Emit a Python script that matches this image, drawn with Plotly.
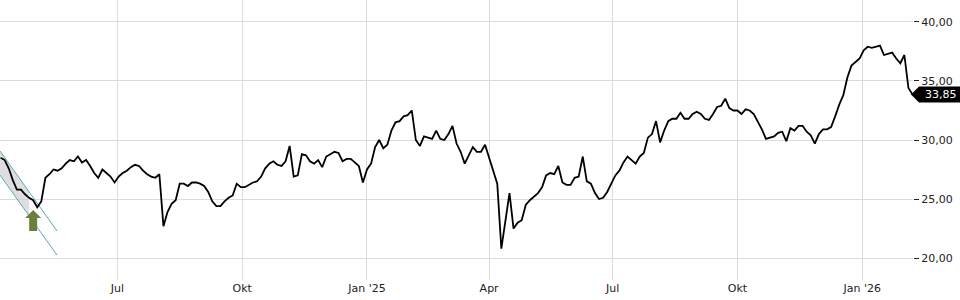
import pandas as pd
import plotly.graph_objects as go

# ---- data ----
start_date = "2024-04-06"
close = [
    28.5, 28.3, 27.6, 26.6, 25.8, 25.8, 25.4, 25.1, 24.9, 24.3,
    24.8, 26.8, 27.1, 27.5, 27.4, 27.6, 28.0, 28.3, 28.2, 28.6,
    28.1, 28.3, 27.8, 27.2, 26.8, 27.5, 27.2, 26.9, 26.4, 26.9,
    27.2, 27.4, 27.7, 27.9, 27.8, 27.4, 27.1, 26.9, 26.8, 27.1,
    22.7, 23.9, 24.6, 24.9, 26.3, 26.3, 26.1, 26.4, 26.4, 26.3,
    26.1, 25.6, 24.8, 24.4, 24.4, 24.8, 25.1, 25.3, 26.3, 26.0,
    26.0, 26.2, 26.4, 26.5, 26.9, 27.6, 28.0, 28.2, 27.9, 27.8,
    28.2, 29.5, 26.9, 27.0, 28.8, 28.7, 28.2, 28.0, 28.3, 27.7,
    28.6, 28.8, 29.0, 28.9, 28.2, 28.4, 28.4, 28.1, 27.8, 26.4,
    27.5, 28.0, 29.4, 30.0, 29.3, 29.6, 30.8, 31.5, 31.6, 32.0,
    32.1, 32.5, 30.0, 29.5, 30.3, 30.2, 30.1, 30.8, 30.1, 30.0,
    30.5, 31.2, 29.7, 29.0, 28.0, 28.7, 29.4, 29.0, 29.0, 29.6,
    28.5, 27.2, 26.3, 20.8, 23.0, 25.5, 22.5, 23.0, 23.2, 24.5,
    24.9, 25.2, 25.5, 26.0, 27.0, 27.2, 27.1, 27.8, 26.4, 26.2,
    26.2, 26.8, 26.9, 28.6, 26.5, 26.3, 25.5, 25.0, 25.1, 25.6,
    26.3, 27.0, 27.4, 28.1, 28.6, 28.3, 28.0, 28.6, 28.9, 30.2,
    30.5, 31.6, 29.8, 30.8, 31.6, 31.8, 31.8, 32.3, 31.8, 31.8,
    32.2, 32.4, 32.2, 31.8, 31.7, 32.2, 32.8, 32.9, 33.5, 32.7,
    32.5, 32.5, 32.2, 32.6, 32.5, 32.2, 31.6, 30.9, 30.1, 30.2,
    30.3, 30.6, 30.7, 29.9, 31.0, 30.8, 31.2, 31.2, 30.7, 30.4,
    29.7, 30.5, 30.9, 30.9, 31.1, 32.0, 33.0, 33.8, 35.3, 36.3,
    36.6, 36.9, 37.6, 37.9, 37.8, 37.9, 38.0, 37.2, 37.3, 37.4,
    36.9, 36.5, 37.2, 34.4, 33.85,
]
dates = pd.date_range(start_date, periods=len(close), freq="3D")
last_price = close[-1]

tick_dates = ["2024-07-01", "2024-10-01", "2025-01-01", "2025-04-01",
              "2025-07-01", "2025-10-01", "2026-01-01"]
tick_text = ["Jul", "Okt", "Jan '25", "Apr", "Jul", "Okt", "Jan '26"]
y_ticks = [20, 25, 30, 35, 40]

# trend channel (start/end date, price)
chan_dates = ["2024-04-05 13:24", "2024-05-17 13:30"]
chan_upper = [29.07, 22.29]
chan_lower = [27.03, 20.25]
shade_end_date = "2024-04-26 22:00"
shade_end_upper = 25.62
shade_end_lower = 23.58
signal_date = "2024-04-30"
signal_price = 24.07

x_range = ["2024-04-05 13:24", "2026-02-07 08:36"]
y_range = [18.14, 41.86]

FONT = "DejaVu Sans"
GRID = "#dcdcdc"
TEAL = "#5fa8b4"
GREEN = "#6c7f3c"

fig = go.Figure()

# shaded part of channel
fig.add_trace(go.Scatter(
    x=[chan_dates[0], shade_end_date, shade_end_date, chan_dates[0], chan_dates[0]],
    y=[chan_upper[0], shade_end_upper, shade_end_lower, chan_lower[0], chan_upper[0]],
    fill="toself", fillcolor="rgba(200,200,200,0.6)", line=dict(width=0),
    mode="lines", hoverinfo="skip", showlegend=False))

# channel lines
fig.add_trace(go.Scatter(x=chan_dates, y=chan_upper, mode="lines",
                         line=dict(color=TEAL, width=1), showlegend=False))
fig.add_trace(go.Scatter(x=chan_dates, y=chan_lower, mode="lines",
                         line=dict(color=TEAL, width=1), showlegend=False))

# price
fig.add_trace(go.Scatter(x=dates, y=close, mode="lines",
                         line=dict(color="black", width=1.8), showlegend=False))

shapes = []
# signal arrow (pixel sized, anchored at signal point)
shapes.append(dict(
    type="path", xref="x", yref="y", xsizemode="pixel", ysizemode="pixel",
    xanchor=signal_date, yanchor=signal_price,
    path="M0,0 L8,-8 L4,-8 L4,-21 L-4,-21 L-4,-8 L-8,-8 Z",
    fillcolor=GREEN, line=dict(width=0)))
# last price box
shapes.append(dict(
    type="path", xref="paper", yref="y", xsizemode="pixel", ysizemode="pixel",
    xanchor=1, yanchor=last_price,
    path="M-2,0 L6,8 L48,8 L48,-8 L6,-8 Z",
    fillcolor="black", line=dict(width=0)))
fig.update_layout(shapes=shapes)

fig.add_annotation(x=1, xref="paper", y=last_price, yref="y",
                   text=f"{last_price:.2f}".replace(".", ","), showarrow=False,
                   xanchor="left", xshift=10,
                   font=dict(family=FONT, size=11, color="white"))

fig.update_layout(
    width=960, height=300,
    margin=dict(l=0, r=47, t=0, b=20),
    paper_bgcolor="white", plot_bgcolor="white",
    separators=",.",
    font=dict(family=FONT, size=11, color="#222"),
    xaxis=dict(type="date", range=x_range, tickvals=tick_dates, ticktext=tick_text,
               showgrid=True, gridcolor=GRID, gridwidth=1, zeroline=False,
               showline=False, ticks="", tickfont=dict(size=11, color="#222")),
    yaxis=dict(side="right", range=y_range, tickvals=y_ticks, tickformat=".2f",
               showgrid=True, gridcolor=GRID, gridwidth=1, zeroline=False,
               showline=False, ticks="outside", ticklen=5, tickcolor="#222",
               tickfont=dict(size=11, color="#222")),
)

fig.write_html("out.html")
